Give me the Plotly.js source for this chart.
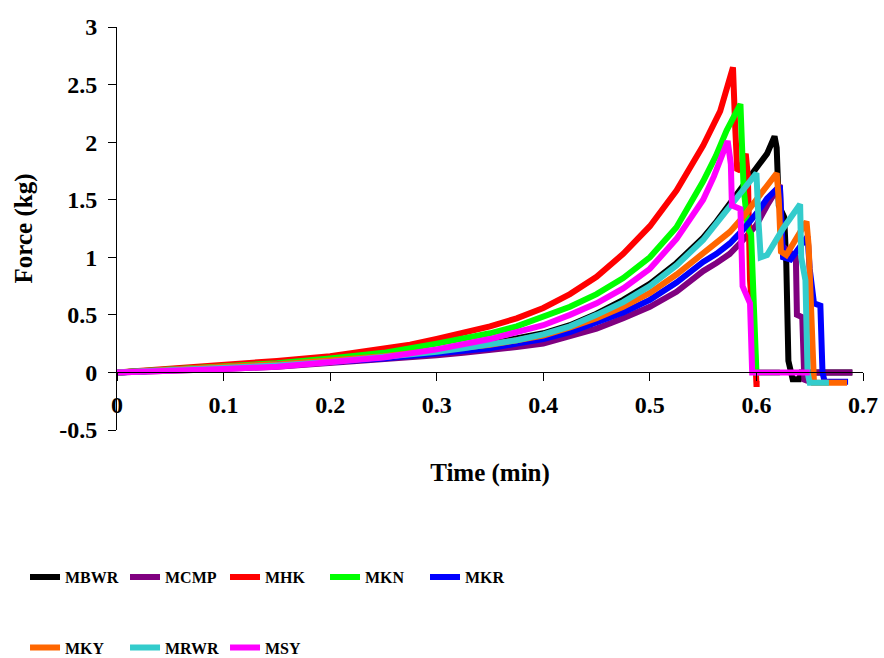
<!DOCTYPE html>
<html>
<head>
<meta charset="utf-8">
<script src="https://cdn.plot.ly/plotly-3.0.1.min.js"></script>
<style>html,body{margin:0;padding:0;background:#fff;}#chart{width:884px;height:658px;}</style>
</head>
<body>
<div id="chart"></div>
<script>
// ---- Data ----
const seriesNames = ["MBWR", "MCMP", "MHK", "MKN", "MKR", "MKY", "MRWR", "MSY"];
const seriesColors = ["#000000", "#800080", "#FF0000", "#00FF00", "#0000FF", "#FF6600", "#33CCCC", "#FF00FF"];

const timeMBWR  = [0, 0.05, 0.1, 0.15, 0.2, 0.25, 0.3, 0.325, 0.35, 0.375, 0.4, 0.425, 0.45, 0.475, 0.5, 0.525, 0.55, 0.5625, 0.575, 0.5875, 0.6, 0.61, 0.617, 0.619, 0.621, 0.626, 0.628, 0.630, 0.634, 0.640, 0.642, 0.69];
const forceMBWR = [0, 0.02, 0.04, 0.06, 0.09, 0.13, 0.18, 0.21, 0.25, 0.29, 0.34, 0.41, 0.51, 0.63, 0.77, 0.95, 1.17, 1.31, 1.46, 1.61, 1.76, 1.90, 2.05, 1.95, 1.45, 1.35, 0.95, 0.1, -0.06, -0.06, 0.0, 0.0];

const timeMCMP  = [0, 0.05, 0.1, 0.15, 0.2, 0.25, 0.3, 0.325, 0.35, 0.375, 0.4, 0.425, 0.45, 0.475, 0.5, 0.525, 0.55, 0.5625, 0.575, 0.5875, 0.6, 0.61, 0.622, 0.624, 0.630, 0.637, 0.638, 0.643, 0.645, 0.648, 0.65, 0.69];
const forceMCMP = [0, 0.01, 0.03, 0.05, 0.08, 0.11, 0.15, 0.17, 0.19, 0.22, 0.25, 0.31, 0.38, 0.47, 0.57, 0.70, 0.88, 0.95, 1.03, 1.15, 1.28, 1.45, 1.63, 1.1, 1.05, 1.0, 0.5, 0.48, -0.08, -0.05, 0.0, 0.0];

const timeMHK   = [0, 0.05, 0.1, 0.15, 0.2, 0.25, 0.275, 0.3, 0.325, 0.35, 0.375, 0.4, 0.425, 0.45, 0.475, 0.5, 0.525, 0.55, 0.566, 0.578, 0.580, 0.582, 0.586, 0.590, 0.592, 0.594, 0.598, 0.600, 0.603];
const forceMHK  = [0, 0.03, 0.06, 0.10, 0.14, 0.20, 0.24, 0.29, 0.34, 0.40, 0.47, 0.56, 0.68, 0.83, 1.03, 1.27, 1.58, 1.97, 2.27, 2.65, 2.15, 1.75, 1.78, 1.9, 1.7, 0.8, 0.3, -0.1, -0.1];

const timeMKN   = [0, 0.05, 0.1, 0.15, 0.2, 0.25, 0.3, 0.325, 0.35, 0.375, 0.4, 0.425, 0.45, 0.475, 0.5, 0.525, 0.55, 0.562, 0.572, 0.585, 0.588, 0.592, 0.595, 0.598, 0.600, 0.622];
const forceMKN  = [0, 0.025, 0.05, 0.08, 0.12, 0.17, 0.25, 0.29, 0.34, 0.40, 0.48, 0.57, 0.68, 0.82, 1.0, 1.26, 1.66, 1.88, 2.10, 2.33, 1.6, 1.25, 1.2, 0.3, 0.0, 0.0];

const timeMKR   = [0, 0.05, 0.1, 0.15, 0.2, 0.25, 0.3, 0.325, 0.35, 0.375, 0.4, 0.425, 0.45, 0.475, 0.5, 0.525, 0.55, 0.5625, 0.575, 0.5875, 0.6, 0.61, 0.622, 0.623, 0.625, 0.632, 0.640, 0.648, 0.650, 0.654, 0.660, 0.662, 0.664, 0.686];
const forceMKR  = [0, 0.02, 0.04, 0.06, 0.09, 0.12, 0.16, 0.18, 0.21, 0.25, 0.29, 0.35, 0.43, 0.52, 0.63, 0.78, 0.96, 1.03, 1.12, 1.24, 1.38, 1.51, 1.62, 1.3, 1.0, 0.98, 1.08, 1.18, 0.9, 0.6, 0.58, 0.0, -0.08, -0.08];

const timeMKY   = [0, 0.05, 0.1, 0.15, 0.2, 0.25, 0.3, 0.325, 0.35, 0.375, 0.4, 0.425, 0.45, 0.475, 0.5, 0.525, 0.55, 0.5625, 0.575, 0.5875, 0.6, 0.61, 0.619, 0.621, 0.623, 0.628, 0.647, 0.649, 0.652, 0.654, 0.685];
const forceMKY  = [0, 0.03, 0.05, 0.07, 0.10, 0.14, 0.19, 0.21, 0.24, 0.28, 0.32, 0.39, 0.47, 0.57, 0.69, 0.85, 1.03, 1.12, 1.22, 1.35, 1.5, 1.61, 1.73, 1.5, 1.05, 1.02, 1.31, 1.1, 0.5, -0.09, -0.09];

const timeMRWR  = [0, 0.05, 0.1, 0.15, 0.2, 0.25, 0.3, 0.325, 0.35, 0.375, 0.4, 0.425, 0.45, 0.475, 0.5, 0.525, 0.55, 0.5625, 0.575, 0.5875, 0.600, 0.602, 0.604, 0.61, 0.625, 0.641, 0.642, 0.646, 0.648, 0.650, 0.668];
const forceMRWR = [0, 0.02, 0.035, 0.06, 0.09, 0.13, 0.18, 0.21, 0.24, 0.28, 0.33, 0.40, 0.50, 0.61, 0.75, 0.93, 1.15, 1.29, 1.44, 1.59, 1.73, 1.3, 1.0, 1.02, 1.25, 1.46, 1.0, 0.8, 0.0, -0.09, -0.09];

const timeMSY   = [0, 0.05, 0.1, 0.15, 0.2, 0.25, 0.3, 0.325, 0.35, 0.375, 0.4, 0.425, 0.45, 0.475, 0.5, 0.525, 0.55, 0.56, 0.566, 0.573, 0.576, 0.577, 0.585, 0.587, 0.594, 0.596, 0.65];
const forceMSY  = [0, 0.01, 0.03, 0.05, 0.09, 0.13, 0.20, 0.24, 0.29, 0.35, 0.41, 0.50, 0.60, 0.73, 0.90, 1.16, 1.50, 1.70, 1.84, 2.01, 1.81, 1.45, 1.42, 0.75, 0.6, 0.0, 0.0];

const xTickVals = [0, 0.1, 0.2, 0.3, 0.4, 0.5, 0.6, 0.7];
const xTickText = ["0", "0.1", "0.2", "0.3", "0.4", "0.5", "0.6", "0.7"];
const yTickVals = [-0.5, 0, 0.5, 1, 1.5, 2, 2.5, 3];
const yTickText = ["-0.5", "0", "0.5", "1", "1.5", "2", "2.5", "3"];

const xTitle = "Time (min)";
const yTitle = "Force (kg)";

// ---- Build traces ----
const times = [timeMBWR, timeMCMP, timeMHK, timeMKN, timeMKR, timeMKY, timeMRWR, timeMSY];
const forces = [forceMBWR, forceMCMP, forceMHK, forceMKN, forceMKR, forceMKY, forceMRWR, forceMSY];

const serif = "'Liberation Serif', 'Times New Roman', Times, serif";

const traces = seriesNames.map((name, i) => ({
  type: "scatter",
  mode: "lines",
  name: name,
  x: times[i],
  y: forces[i],
  line: { color: seriesColors[i], width: 6 },
  legend: i < 5 ? "legend" : "legend2",
  hoverinfo: "skip"
}));

const legendStyle = {
  orientation: "h",
  xanchor: "left",
  yanchor: "middle",
  x: -0.1233,
  font: { family: serif, size: 16, color: "#000", weight: "bold" },
  entrywidth: 55,
  entrywidthmode: "pixels",
  bgcolor: "rgba(0,0,0,0)",
  borderwidth: 0
};

const layout = {
  width: 884,
  height: 658,
  margin: { l: 117, r: 21, t: 27, b: 228, autoexpand: false },
  paper_bgcolor: "#ffffff",
  plot_bgcolor: "#ffffff",
  showlegend: true,
  legend: Object.assign({}, legendStyle, { y: -0.365 }),
  legend2: Object.assign({}, legendStyle, { y: -0.54 }),
  xaxis: {
    range: [0, 0.7],
    anchor: "free",
    position: 0.5 / 3.5,
    tickvals: xTickVals,
    ticktext: xTickText,
    ticks: "outside",
    ticklen: 8,
    tickcolor: "#000",
    showline: true,
    linecolor: "#000",
    linewidth: 1,
    showgrid: false,
    zeroline: false,
    ticklabelstandoff: 3,
    tickfont: { family: serif, size: 24, color: "#000", weight: "bold" },
    title: { text: xTitle, standoff: 46, font: { family: serif, size: 25, color: "#000", weight: "bold" } },
    automargin: false,
    fixedrange: true
  },
  yaxis: {
    range: [-0.5, 3],
    tickvals: yTickVals,
    ticktext: yTickText,
    ticks: "outside",
    ticklen: 8,
    tickcolor: "#000",
    showline: true,
    linecolor: "#000",
    linewidth: 1,
    showgrid: false,
    zeroline: false,
    ticklabelstandoff: 6,
    tickfont: { family: serif, size: 24, color: "#000", weight: "bold" },
    title: { text: yTitle, standoff: 19, font: { family: serif, size: 25, color: "#000", weight: "bold" } },
    automargin: false,
    fixedrange: true
  }
};

Plotly.newPlot("chart", traces, layout, { displayModeBar: false, staticPlot: true });
</script>
</body>
</html>
